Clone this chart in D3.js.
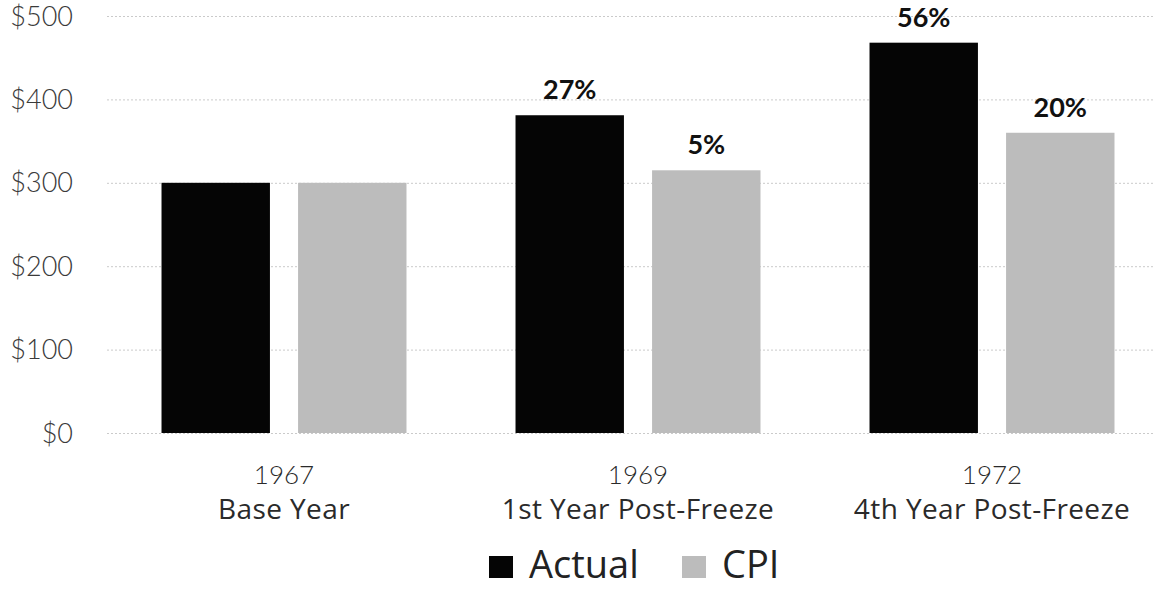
<!DOCTYPE html>
<html>
<head>
<meta charset="utf-8">
<script src="https://cdn.jsdelivr.net/npm/d3@7"></script>
<style>
  body { margin: 0; background: #fff; }
  svg text { font-family: Lato, "Noto Sans", sans-serif; }
  svg text.wide { font-family: "Open Sans", Lato, sans-serif; }
</style>
</head>
<body>
<svg id="chart" width="1155" height="590"></svg>
<script>
var years = ['1967', '1969', '1972'];
var subtitles = ['Base Year', '1st Year Post-Freeze', '4th Year Post-Freeze'];
var seriesNames = ['Actual', 'CPI'];
var actualValues = [300, 381, 468];
var cpiValues = [300, 315, 360];
var actualLabels = ['', '27%', '56%'];
var cpiLabels = ['', '5%', '20%'];
var yTicks = [0, 100, 200, 300, 400, 500];

var colors = { Actual: '#050505', CPI: '#bcbcbc' };

var svg = d3.select('#chart');

var x0 = d3.scaleBand()
  .domain(years)
  .range([107, 1169])
  .paddingInner(0.308)
  .paddingOuter(0.154);

var x1 = d3.scaleBand()
  .domain(seriesNames)
  .range([0, x0.bandwidth()])
  .paddingInner(0.206);

var y = d3.scaleLinear()
  .domain([0, 500])
  .range([433, 16]);

// gridlines
svg.append('g')
  .selectAll('line')
  .data(yTicks)
  .enter().append('line')
  .attr('x1', 107)
  .attr('x2', 1155)
  .attr('y1', function (d) { return y(d) + 0.5; })
  .attr('y2', function (d) { return y(d) + 0.5; })
  .attr('stroke', '#cacaca')
  .attr('stroke-width', 1)
  .attr('stroke-dasharray', '2,2');

// y axis labels
var yAxis = d3.axisLeft(y)
  .tickValues(yTicks)
  .tickSize(0)
  .tickPadding(0)
  .tickFormat(function (d) { return '$' + d; });

var yg = svg.append('g')
  .attr('transform', 'translate(73,0)')
  .call(yAxis);
yg.select('.domain').remove();
yg.selectAll('text')
  .attr('font-size', 27)
  .attr('fill', '#3a3a3a')
  .attr('font-weight', 300)
  .attr('dy', '0.34em');

var rows = years.map(function (yr, i) {
  return { year: yr, values: [
    { name: 'Actual', value: actualValues[i], label: actualLabels[i] },
    { name: 'CPI', value: cpiValues[i], label: cpiLabels[i] }
  ] };
});

var groups = svg.append('g')
  .selectAll('g')
  .data(rows)
  .enter().append('g')
  .attr('transform', function (d) { return 'translate(' + x0(d.year) + ',0)'; });

groups.selectAll('rect')
  .data(function (d) { return d.values; })
  .enter().append('rect')
  .attr('x', function (d) { return x1(d.name); })
  .attr('width', x1.bandwidth())
  .attr('y', function (d) { return y(d.value); })
  .attr('height', function (d) { return y(0) - y(d.value); })
  .attr('fill', function (d) { return colors[d.name]; });

groups.selectAll('text.val')
  .data(function (d) { return d.values; })
  .enter().append('text')
  .attr('class', 'val')
  .attr('x', function (d) { return x1(d.name) + x1.bandwidth() / 2; })
  .attr('y', function (d) { return y(d.value) - 16; })
  .attr('text-anchor', 'middle')
  .attr('font-size', 27)
  .attr('font-weight', 'bold')
  .attr('fill', '#111')
  .text(function (d) { return d.label; });

// category labels
var xAxis = d3.axisBottom(x0).tickSize(0).tickPadding(0).tickFormat('');
var xg = svg.append('g').attr('transform', 'translate(0,433)').call(xAxis);
xg.select('.domain').remove();

var cx = function (d) { return x0(d) + x0.bandwidth() / 2; };

svg.append('g')
  .selectAll('text')
  .data(years)
  .enter().append('text')
  .attr('x', cx)
  .attr('y', 484)
  .attr('text-anchor', 'middle')
  .attr('font-size', 26)
  .attr('font-weight', 300)
  .attr('fill', '#2a2a2a')
  .text(function (d) { return d; });

svg.append('g')
  .selectAll('text')
  .data(years)
  .enter().append('text')
  .attr('class', 'wide')
  .attr('x', cx)
  .attr('y', 519)
  .attr('text-anchor', 'middle')
  .attr('font-size', 28)
  .attr('letter-spacing', 0.4)
  .attr('fill', '#2a2a2a')
  .text(function (d, i) { return subtitles[i]; });

// legend
var legendX = [489, 682];
var legend = svg.append('g')
  .selectAll('g')
  .data(seriesNames)
  .enter().append('g')
  .attr('transform', function (d, i) { return 'translate(' + legendX[i] + ',556)'; });

legend.append('rect')
  .attr('width', 24)
  .attr('height', 22)
  .attr('fill', function (d) { return colors[d]; });

legend.append('text')
  .attr('class', 'wide')
  .attr('x', 40)
  .attr('y', 22)
  .attr('font-size', 38)
  .attr('fill', '#222')
  .text(function (d) { return d; });
</script>
</body>
</html>
